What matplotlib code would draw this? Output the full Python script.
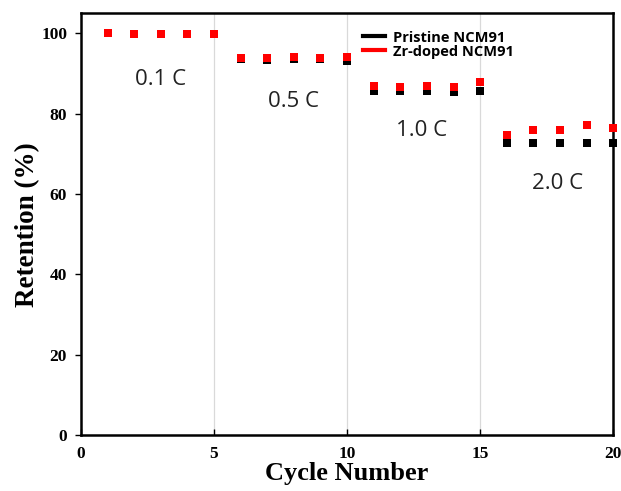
import matplotlib
matplotlib.use("Agg")
import matplotlib.pyplot as plt
from matplotlib.lines import Line2D

cycles = list(range(1, 21))
pristine = [100, 99.8, 99.8, 99.8, 99.8,
            93.7, 93.3, 93.6, 93.7, 93.0,
            85.7, 85.7, 85.7, 85.3, 85.7,
            72.7, 72.7, 72.7, 72.7, 72.7]
zr_doped = [100, 99.8, 99.8, 99.8, 99.8,
            93.8, 93.8, 94.0, 93.8, 94.1,
            86.8, 86.7, 86.8, 86.6, 87.8,
            74.8, 75.9, 75.9, 77.3, 76.5]
rate_labels = ["0.1 C", "0.5 C", "1.0 C", "2.0 C"]
rate_label_x = [3.0, 8.0, 12.8, 17.9]
rate_label_y = [88.5, 83.0, 75.7, 62.5]
series_names = ["Pristine NCM91", "Zr-doped NCM91"]

fig = plt.figure(figsize=(6.21, 4.91), dpi=100)
ax = fig.add_axes([0.1304, 0.114, 0.857, 0.859])

for xv in [5, 10, 15]:
    ax.axvline(xv, color="#d9d9d9", lw=0.9, zorder=0)

ax.plot(cycles, pristine, "s", color="black", ms=6, mew=0, ls="none",
        clip_on=False, zorder=3)
ax.plot(cycles, zr_doped, "s", color="#ff0000", ms=6, mew=0, ls="none",
        clip_on=False, zorder=4)

handles = [Line2D([0], [0], color="black", lw=3),
           Line2D([0], [0], color="#ff0000", lw=3)]
leg = ax.legend(handles, series_names, loc="upper left",
                bbox_to_anchor=(0.505, 0.99), frameon=False,
                handlelength=1.5, handletextpad=0.6, labelspacing=0.0,
                prop={"family": ["Open Sans", "DejaVu Sans"],
                      "weight": "bold", "size": 10.5})

for t, xv, yv in zip(rate_labels, rate_label_x, rate_label_y):
    ax.text(xv, yv, t, ha="center", va="center", fontsize=16,
            family=["Open Sans", "DejaVu Sans"], color="#222222")

ax.set_xlim(0, 20)
ax.set_ylim(0, 105)
ax.set_xticks([0, 5, 10, 15, 20])
ax.set_yticks([0, 20, 40, 60, 80, 100])
ax.tick_params(axis="x", direction="in", length=4, width=1, pad=8)
ax.tick_params(axis="y", direction="out", length=4, width=1, pad=6)
for lab in ax.get_xticklabels() + ax.get_yticklabels():
    lab.set_fontfamily("Liberation Serif")
    lab.set_fontweight("bold")
    lab.set_fontsize(12.5)
for s in ax.spines.values():
    s.set_linewidth(1.8)

ax.set_xlabel("Cycle Number", family="Liberation Serif", weight="bold",
              fontsize=19, labelpad=0)
ax.set_ylabel("Retention (%)", family="Liberation Serif", weight="bold",
              fontsize=19.5, labelpad=1)

fig.savefig("out.png", dpi=100)
